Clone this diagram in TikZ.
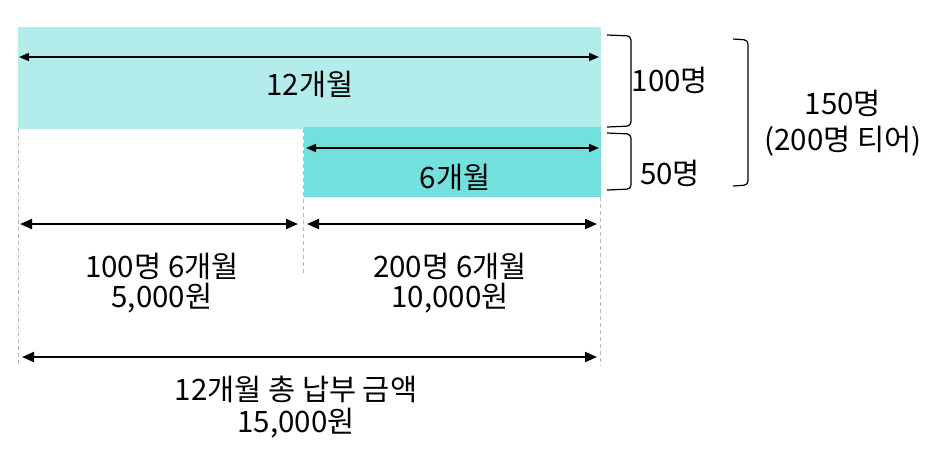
\documentclass[tikz,border=0pt]{standalone}
\usepackage{fontspec}
\setmainfont{Noto Sans CJK KR}
\usetikzlibrary{arrows.meta}
\definecolor{barlight}{HTML}{B2EDEC}
\definecolor{bardark}{HTML}{72E0DC}
\definecolor{guide}{HTML}{BBBBBB}
\tikzset{
  lbl/.style={font=\fontsize{29.5}{34}\selectfont, align=center, inner sep=0pt},
  dimarrow/.style={line width=2pt, {Triangle[length=12pt,width=10pt]}-{Triangle[length=12pt,width=10pt]}},
  barrow/.style={line width=1.5pt, {Triangle[length=10pt,width=8pt]}-{Triangle[length=10pt,width=8pt]}},
  guideline/.style={guide, line width=0.8pt, dash pattern=on 4pt off 3pt},
  brk/.style={line width=1.2pt, rounded corners=4pt},
}
\begin{document}
\begin{tikzpicture}[x=1pt,y=-1pt]
\useasboundingbox (0,0) rectangle (929,456);
% bars
\fill[barlight] (18,27) rectangle (601,129);
\node[inner sep=0pt, minimum size=0pt] (barA) at (309.5,78) {};
\fill[bardark] (304,127) rectangle (601,197);
\node[inner sep=0pt, minimum size=0pt] (barB) at (452.5,162) {};
% guide lines
\coordinate (g1t) at (18,129); \coordinate (g1b) at (18,366);
\coordinate (g2t) at (303,129); \coordinate (g2b) at (303,276);
\coordinate (g3t) at (600,197); \coordinate (g3b) at (600,366);
\draw[guideline] (g1t) -- (g1b);
\draw[guideline] (g2t) -- (g2b);
\draw[guideline] (g3t) -- (g3b);
% bar arrows
\coordinate (a1l) at (19,57); \coordinate (a1r) at (599,57);
\draw[barrow] (a1l) -- (a1r);
\node[lbl] (t12) at (310,84) {12개월};
\coordinate (a2l) at (306,148); \coordinate (a2r) at (599,148);
\draw[barrow] (a2l) -- (a2r);
\node[lbl] (t6) at (455,177) {6개월};
% dimension arrows
\coordinate (d1l) at (20,224); \coordinate (d1r) at (298,224);
\coordinate (d2l) at (307,224); \coordinate (d2r) at (597,224);
\draw[dimarrow] (d1l) -- (d1r);
\draw[dimarrow] (d2l) -- (d2r);
\node[lbl] (p1a) at (162,266) {100명 6개월};
\node[lbl] (p1b) at (162,298) {5,000원};
\node[lbl] (p2a) at (450,266) {200명 6개월};
\node[lbl] (p2b) at (450,298) {10,000원};
\coordinate (d3l) at (22,357); \coordinate (d3r) at (597,357);
\draw[dimarrow] (d3l) -- (d3r);
\node[lbl] (tt1) at (296,389) {12개월 총 납부 금액};
\node[lbl] (tt2) at (296,423) {15,000원};
% brackets
\coordinate (b1t) at (607,35); \coordinate (b1b) at (607,127);
\draw[brk] (b1t) -- (631,36) -- (631,126) -- (b1b);
\node[lbl] (n100) at (670,80) {100명};
\coordinate (b2t) at (607,133); \coordinate (b2b) at (607,190);
\draw[brk] (b2t) -- (631,134) -- (631,189) -- (b2b);
\node[lbl] (n50) at (670,173) {50명};
\coordinate (b3t) at (733,39); \coordinate (b3b) at (733,186);
\draw[brk] (b3t) -- (748,40) -- (748,185) -- (b3b);
\node[lbl] (n150a) at (843,103) {150명};
\node[lbl] (n150b) at (843,141) {(200명 티어)};
\end{tikzpicture}
\end{document}
